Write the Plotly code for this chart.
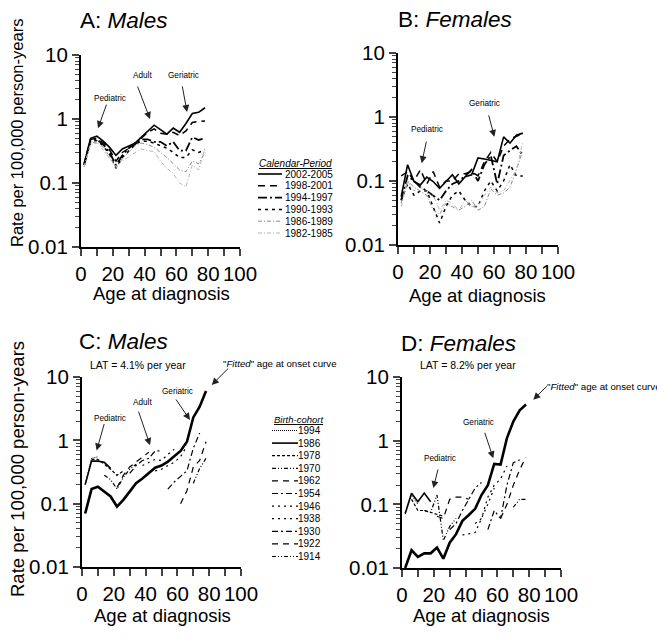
import math
import plotly.graph_objects as go

# ---------------- data ----------------
ages = [2, 6, 10, 14, 18, 22, 26, 30, 34, 38, 42, 46, 50, 54, 58, 62, 66, 70, 74, 78]

period_names = ["2002-2005", "1998-2001", "1994-1997", "1990-1993", "1986-1989", "1982-1985"]

# Panel A: males by calendar period
m_2002 = [0.20, 0.50, 0.54, 0.45, 0.36, 0.27, 0.34, 0.38, 0.42, 0.52, 0.65, 0.80, 0.68, 0.58, 0.72, 0.62, 0.85, 1.22, 1.27, 1.50]
m_1998 = [0.20, 0.48, 0.50, 0.43, 0.33, 0.22, 0.30, 0.35, 0.40, 0.50, 0.62, 0.70, 0.60, 0.58, 0.62, 0.55, 0.65, 0.88, 0.92, 0.93]
m_1994 = [0.19, 0.46, 0.48, 0.40, 0.30, 0.19, 0.27, 0.35, 0.42, 0.48, 0.48, 0.44, 0.44, 0.38, 0.44, 0.32, 0.32, 0.52, 0.47, 0.50]
m_1990 = [0.19, 0.44, 0.46, 0.38, 0.28, 0.17, 0.25, 0.32, 0.40, 0.45, 0.45, 0.42, 0.38, 0.35, 0.30, 0.25, 0.25, 0.33, 0.30, 0.33]
m_1986 = [0.18, 0.42, 0.44, 0.36, 0.26, 0.17, 0.24, 0.30, 0.38, 0.42, 0.40, 0.36, 0.30, 0.25, 0.20, 0.16, 0.15, 0.22, 0.20, 0.30]
m_1982 = [0.18, 0.40, 0.42, 0.33, 0.24, 0.18, 0.22, 0.26, 0.30, 0.34, 0.32, 0.31, 0.22, 0.17, 0.14, 0.10, 0.087, 0.19, 0.16, 0.35]

# Panel B: females by calendar period
f_2002 = [0.057, 0.18, 0.098, 0.087, 0.115, 0.098, 0.077, 0.10, 0.125, 0.09, 0.117, 0.125, 0.23, 0.22, 0.21, 0.20, 0.49, 0.39, 0.52, 0.56]
f_1998 = [0.12, 0.14, 0.10, 0.15, 0.09, 0.14, 0.08, 0.10, 0.10, 0.13, 0.13, 0.14, 0.12, 0.20, 0.28, 0.20, 0.35, 0.45, 0.50, 0.55]
f_1994 = [0.05, 0.12, 0.10, 0.08, 0.07, 0.06, 0.05, 0.07, 0.09, 0.10, 0.12, 0.15, 0.10, 0.18, 0.25, 0.09, 0.25, 0.30, 0.35, 0.25]
f_1990 = [0.05, 0.09, 0.06, 0.07, 0.07, 0.04, 0.022, 0.04, 0.06, 0.07, 0.05, 0.04, 0.04, 0.07, 0.10, 0.07, 0.10, 0.18, 0.12, 0.12]
f_1986 = [0.045, 0.10, 0.08, 0.07, 0.06, 0.035, 0.03, 0.045, 0.04, 0.035, 0.04, 0.05, 0.035, 0.04, 0.075, 0.06, 0.065, 0.08, 0.15, 0.30]
f_1982 = [0.04, 0.10, 0.07, 0.08, 0.065, 0.06, 0.035, 0.05, 0.045, 0.035, 0.05, 0.04, 0.04, 0.06, 0.08, 0.065, 0.07, 0.10, 0.15, 0.40]

cohort_names = ["1994", "1986", "1978", "1970", "1962", "1954", "1946", "1938", "1930", "1922", "1914"]
cohort_ages = [
    [2, 6, 10],
    [2, 6, 10, 14, 18],
    [6, 10, 14, 18, 22, 26],
    [14, 18, 22, 26, 30, 34],
    [22, 26, 30, 34, 38, 42],
    [30, 34, 38, 42, 46, 50],
    [38, 42, 46, 50, 54, 58],
    [46, 50, 54, 58, 62, 66],
    [54, 58, 62, 66, 70, 74],
    [62, 66, 70, 74, 78],
    [70, 74, 78],
]
# Panel C: males by birth cohort
mc_vals = [
    [0.20, 0.52, 0.55],
    [0.20, 0.47, 0.47, 0.45, 0.36],
    [0.50, 0.50, 0.42, 0.35, 0.28, 0.33],
    [0.28, 0.24, 0.17, 0.26, 0.35, 0.42],
    [0.18, 0.28, 0.38, 0.45, 0.55, 0.65],
    [0.30, 0.40, 0.48, 0.52, 0.68, 0.68],
    [0.40, 0.45, 0.50, 0.48, 0.60, 0.72],
    [0.33, 0.35, 0.40, 0.45, 0.55, 0.82],
    [0.17, 0.22, 0.27, 0.33, 0.75, 1.30],
    [0.10, 0.16, 0.38, 0.48, 0.95],
    [0.21, 0.36, 0.52],
]
m_fitted = [0.07, 0.17, 0.185, 0.155, 0.13, 0.09, 0.115, 0.155, 0.21, 0.25, 0.30, 0.37, 0.40, 0.46, 0.56, 0.68, 0.95, 2.3, 3.4, 6.0]

# Panel D: females by birth cohort
fc_vals = [
    [0.07, 0.14, 0.10],
    [0.072, 0.15, 0.11, 0.15, 0.11],
    [0.12, 0.08, 0.08, 0.075, 0.07, 0.065],
    [0.08, 0.075, 0.14, 0.027, 0.045, 0.06],
    [0.065, 0.06, 0.12, 0.13, 0.13, 0.12],
    [0.04, 0.05, 0.08, 0.12, 0.18, 0.22],
    [0.033, 0.034, 0.036, 0.06, 0.10, 0.18],
    [0.05, 0.06, 0.13, 0.20, 0.25, 0.40],
    [0.04, 0.08, 0.06, 0.20, 0.45, 0.50],
    [0.06, 0.10, 0.20, 0.35, 0.55],
    [0.09, 0.12, 0.12],
]
f_fitted = [0.010, 0.019, 0.015, 0.017, 0.017, 0.021, 0.014, 0.025, 0.034, 0.055, 0.068, 0.085, 0.14, 0.20, 0.43, 0.42, 1.1, 2.0, 3.0, 3.7]

y_ticks = [0.01, 0.1, 1, 10]
y_ticktext = ["0.01", "0.1", "1", "10"]
x_ticks = [0, 20, 40, 60, 80, 100]

# ---------------- styles ----------------
W, H = 665, 640
OFF = 8  # page body margin
FONT = "Liberation Sans, Arial, sans-serif"

period_styles = [
    dict(color="black", width=1.6, dash="solid"),
    dict(color="black", width=1.5, dash="7px,5px"),
    dict(color="black", width=1.8, dash="9px,3px,2px,3px"),
    dict(color="black", width=1.5, dash="3px,4px"),
    dict(color="#8a8a8a", width=1.0, dash="4px,2px,1px,2px"),
    dict(color="#b5b5b5", width=1.0, dash="4px,2px,1px,2px"),
]
cohort_styles = [
    dict(color="black", width=1.0, dash="1px,1px"),
    dict(color="black", width=1.6, dash="solid"),
    dict(color="black", width=1.2, dash="3px,2px"),
    dict(color="black", width=1.2, dash="4px,2px,1px,2px,1px,2px"),
    dict(color="black", width=1.2, dash="6px,5px"),
    dict(color="black", width=1.2, dash="6px,3px,2px,3px"),
    dict(color="black", width=1.2, dash="2px,4px"),
    dict(color="black", width=1.2, dash="2px,4px"),
    dict(color="black", width=1.2, dash="6px,3px,2px,3px"),
    dict(color="black", width=1.2, dash="6px,5px"),
    dict(color="black", width=1.2, dash="4px,2px,1px,2px,1px,2px"),
]
fitted_style = dict(color="black", width=2.6, dash="solid")

panels = {
    "A": dict(x0=81, x1=240, y0=55, y1=247, xa="x", ya="y"),
    "B": dict(x0=398, x1=558, y0=53, y1=245, xa="x2", ya="y2"),
    "C": dict(x0=82, x1=241, y0=377, y1=567, xa="x3", ya="y3"),
    "D": dict(x0=402, x1=561, y0=377, y1=568, xa="x4", ya="y4"),
}


def px(X, Y):
    return (X - OFF) / W, 1 - (Y - OFF) / H


fig = go.Figure()

period_sets = {"A": [m_2002, m_1998, m_1994, m_1990, m_1986, m_1982],
               "B": [f_2002, f_1998, f_1994, f_1990, f_1986, f_1982]}
for key, sets in period_sets.items():
    p = panels[key]
    for name, vals, st in zip(period_names, sets, period_styles):
        fig.add_trace(go.Scatter(x=ages, y=vals, mode="lines", name=name, line=st,
                                 xaxis=p["xa"], yaxis=p["ya"], showlegend=False))

cohort_sets = {"C": (mc_vals, m_fitted), "D": (fc_vals, f_fitted)}
for key, (sets, fitted) in cohort_sets.items():
    p = panels[key]
    for name, a, vals, st in zip(cohort_names, cohort_ages, sets, cohort_styles):
        fig.add_trace(go.Scatter(x=a, y=vals, mode="lines", name=name, line=st,
                                 xaxis=p["xa"], yaxis=p["ya"], showlegend=False))
    fig.add_trace(go.Scatter(x=ages, y=fitted, mode="lines", name="Fitted", line=fitted_style,
                             xaxis=p["xa"], yaxis=p["ya"], showlegend=False))

# minor tick values
y_minor = [m * 10 ** e for e in range(-2, 1) for m in range(2, 10)]
x_minor = [10, 30, 50, 70, 90]

layout = dict(width=W, height=H, margin=dict(l=0, r=0, t=0, b=0, autoexpand=False),
              paper_bgcolor="white", plot_bgcolor="white",
              font=dict(family=FONT, color="black"), showlegend=False)

for i, key in enumerate(["A", "B", "C", "D"]):
    p = panels[key]
    sfx = "" if i == 0 else str(i + 1)
    x0p, y1p = px(p["x0"], p["y1"])
    x1p, y0p = px(p["x1"], p["y0"])
    layout["xaxis" + sfx] = dict(
        domain=[x0p, x1p], anchor="y" + sfx, range=[0, 100], automargin=False,
        tickvals=x_ticks, ticks="outside", ticklen=7, tickwidth=1.5,
        showline=True, linewidth=2, linecolor="black", showgrid=False, zeroline=False,
        tickfont=dict(size=20.5, family=FONT),
        minor=dict(tickvals=x_minor, ticks="outside", ticklen=7, tickwidth=1.5, showgrid=False),
    )
    layout["yaxis" + sfx] = dict(
        domain=[y1p, y0p], anchor="x" + sfx, type="log", range=[-2, 1], automargin=False,
        tickvals=y_ticks, ticktext=y_ticktext, ticks="outside", ticklen=7, tickwidth=1.5,
        showline=True, linewidth=2, linecolor="black", showgrid=False, zeroline=False,
        tickfont=dict(size=20.5, family=FONT),
        minor=dict(tickvals=y_minor, ticks="outside", ticklen=4, tickwidth=1, showgrid=False),
    )

annotations = []


def text_ann(X, Y, text, size, xanchor="left", angle=0, yanchor="middle"):
    xp, yp = px(X, Y)
    annotations.append(dict(x=xp, y=yp, xref="paper", yref="paper", text=text, showarrow=False,
                            xanchor=xanchor, yanchor=yanchor, textangle=angle, borderpad=0,
                            font=dict(size=size, family=FONT, color="black")))


# panel titles
text_ann(79, 20, "A: <i>Males</i>", 22.5)
text_ann(397, 19, "B: <i>Females</i>", 22.5)
text_ann(78, 341, "C: <i>Males</i>", 22.5)
text_ann(400, 343, "D: <i>Females</i>", 22.5)

# axis titles
text_ann(17, 133, "Rate per 100,000 person-years", 16.5, xanchor="center", angle=-90)
text_ann(17, 469, "Rate per 100,000 person-years", 18.5, xanchor="center", angle=-90)
text_ann(161, 293, "Age at diagnosis", 18.5, xanchor="center")
text_ann(477, 295, "Age at diagnosis", 18.5, xanchor="center")
text_ann(162, 615, "Age at diagnosis", 18.5, xanchor="center")
text_ann(481, 615, "Age at diagnosis", 18.5, xanchor="center")

# LAT and fitted labels
text_ann(138, 365, "LAT = 4.1% per year", 10.5, xanchor="center")
text_ann(468, 365, "LAT = 8.2% per year", 10.5, xanchor="center")
text_ann(222, 363, "\"<i>Fitted</i>\" age at onset curve", 9.7, xanchor="left")
text_ann(546, 386, "\"<i>Fitted</i>\" age at onset curve", 9.7, xanchor="left")

# event labels: (panel, label, text X, text Y, tip age, tip value, tail dx, tail dy)
event_labels = [
    ("A", "Pediatric", 110, 98, 10.7, 0.72, 9, -25),
    ("A", "Adult", 142, 75, 43.4, 1.0, -13, -34),
    ("A", "Geriatric", 183, 76, 66.7, 1.29, -5, -27),
    ("B", "Pediatric", 427, 129, 14.8, 0.19, 5, -23),
    ("B", "Geriatric", 484, 103, 60.2, 0.49, -6, -23),
    ("C", "Pediatric", 110, 418, 9.2, 0.69, 8, -28),
    ("C", "Adult", 142, 402, 42.8, 0.84, -12, -35),
    ("C", "Geriatric", 177, 391, 67.9, 2.1, -15, -22),
    ("C", "", 0, 0, 81.6, 7.5, 18, -18),
    ("D", "Pediatric", 440, 458, 19.7, 0.18, 5, -20),
    ("D", "Geriatric", 478, 422, 57.4, 0.53, -9, -27),
    ("D", "", 0, 0, 82.6, 4.4, 15, -15),
]
for key, lab, tx, ty, age, val, dx, dy in event_labels:
    p = panels[key]
    if lab:
        text_ann(tx, ty, lab, 8.2, xanchor="center")
    annotations.append(dict(x=age, y=math.log10(val), xref=p["xa"], yref=p["ya"], text="",
                            showarrow=True, ax=dx, ay=dy, arrowhead=2, arrowsize=1.4,
                            arrowwidth=1, arrowcolor="#222", standoff=0))

# manual legends
shapes = []
text_ann(258, 163, "<i><u>Calendar-Period</u></i>", 10)
for i, (name, st) in enumerate(zip(period_names, period_styles)):
    Y = 174 + i * 11.8
    xa, ya = px(258, Y)
    xb, _ = px(282, Y)
    shapes.append(dict(type="line", xref="paper", yref="paper", x0=xa, x1=xb, y0=ya, y1=ya,
                       line=dict(color=st["color"], width=st["width"], dash=st["dash"])))
    text_ann(284, Y, name, 10)

text_ann(273, 419, "<i><u>Birth-cohort</u></i>", 9.5)
for i, (name, st) in enumerate(zip(cohort_names, cohort_styles)):
    Y = 430.5 + i * 12.6
    xa, ya = px(272, Y)
    xb, _ = px(298, Y)
    shapes.append(dict(type="line", xref="paper", yref="paper", x0=xa, x1=xb, y0=ya, y1=ya,
                       line=dict(color=st["color"], width=st["width"], dash=st["dash"])))
    text_ann(322, Y, name, 10, xanchor="right")

layout["annotations"] = annotations
layout["shapes"] = shapes
fig.update_layout(**layout)
fig.write_html("out.html")
